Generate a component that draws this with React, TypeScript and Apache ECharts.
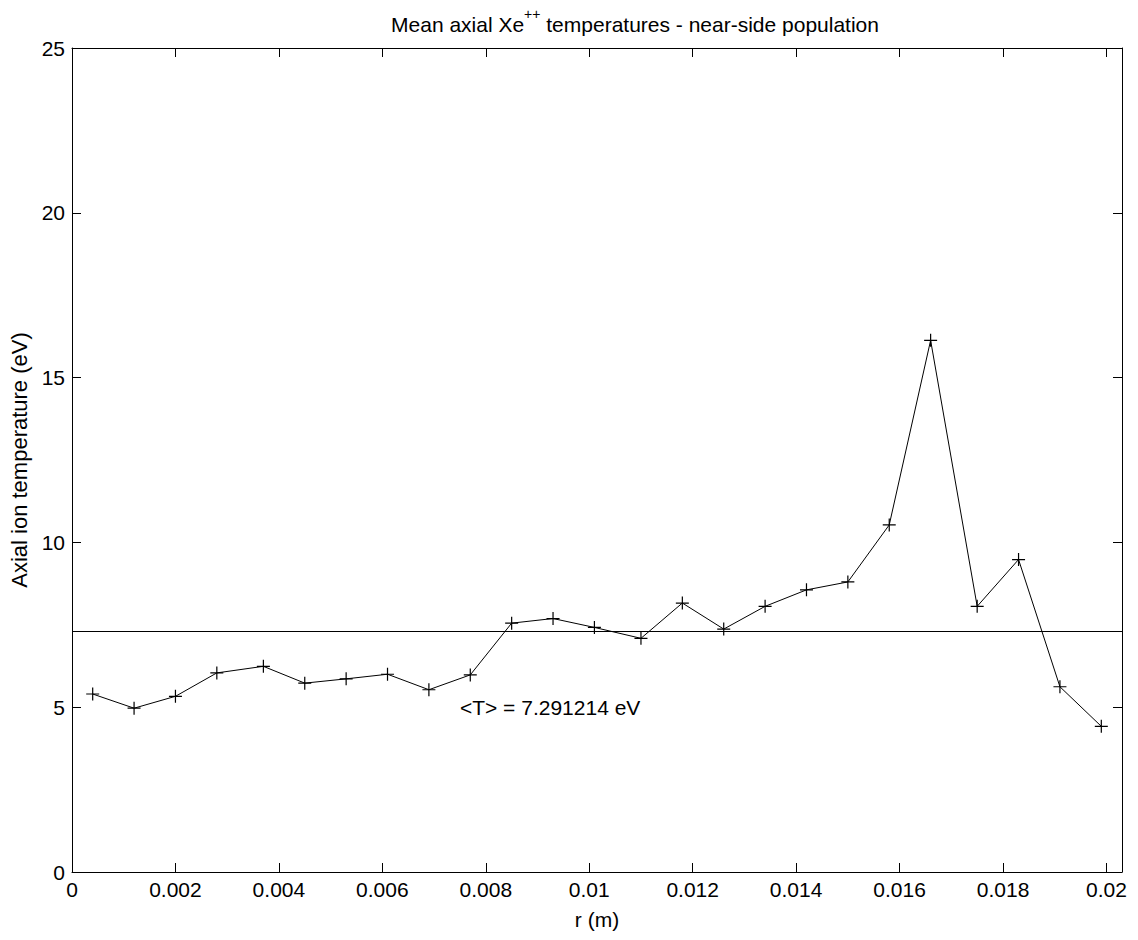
import React, { useEffect, useRef } from "react";
import * as echarts from "echarts";

// Radial positions (m) and mean axial Xe++ ion temperatures (eV)
const r = [
  0.0004, 0.0012, 0.002, 0.0028, 0.0037, 0.0045, 0.0053, 0.0061, 0.0069, 0.0077,
  0.0085, 0.0093, 0.0101, 0.011, 0.0118, 0.0126, 0.0134, 0.0142, 0.015, 0.0158,
  0.0166, 0.0175, 0.0183, 0.0191, 0.0199,
];
const temperature = [
  5.4, 4.97, 5.33, 6.04, 6.24, 5.73, 5.86, 6.0, 5.53, 5.98,
  7.55, 7.69, 7.42, 7.09, 8.16, 7.37, 8.06, 8.56, 8.8, 10.53,
  16.13, 8.06, 9.48, 5.62, 4.42,
];
const meanT = 7.291214;
const meanLabelAt = [0.0075, 5];

const xTicks = [0, 0.002, 0.004, 0.006, 0.008, 0.01, 0.012, 0.014, 0.016, 0.018, 0.02];
const yTicks = [0, 5, 10, 15, 20, 25];
const xMax = 0.0203;

const FONT = "Liberation Sans, Arial, Helvetica, sans-serif";
const BLACK = "#000";
const FS = 21;

export default function App() {
  const ref = useRef<HTMLDivElement>(null);

  useEffect(() => {
    if (!ref.current) return;
    const chart = echarts.init(ref.current, undefined, { renderer: "svg" });

    const fmtX = (v: number) => String(+Number(v).toFixed(4));

    const baseX = {
      type: "value" as const,
      min: 0,
      max: xMax,
      axisLine: { show: true, onZero: false, lineStyle: { color: BLACK, width: 1 } },
      axisTick: { show: true, inside: true, length: 9, customValues: xTicks, lineStyle: { color: BLACK } },
      splitLine: { show: false },
    };
    const baseY = {
      type: "value" as const,
      min: 0,
      max: 25,
      interval: 5,
      axisLine: { show: true, onZero: false, lineStyle: { color: BLACK, width: 1 } },
      axisTick: { show: true, inside: true, length: 9, customValues: yTicks, lineStyle: { color: BLACK } },
      splitLine: { show: false },
    };

    chart.setOption({
      animation: false,
      backgroundColor: "#fff",
      title: {
        text: "{t|Mean axial Xe}{s|++}{t| temperatures - near-side population}",
        left: 630,
        top: 2,
        textAlign: "center",
        textStyle: {
          fontWeight: "normal",
          rich: {
            t: { fontFamily: FONT, fontSize: FS, fontWeight: "normal", color: BLACK, lineHeight: 28, verticalAlign: "bottom" },
            s: { fontFamily: FONT, fontSize: 14, fontWeight: "normal", color: BLACK, lineHeight: 28, verticalAlign: "top" },
          },
        },
      },
      grid: { left: 72, right: 16, top: 48, bottom: 68, containLabel: false },
      xAxis: [
        {
          ...baseX,
          position: "bottom",
          axisLabel: {
            show: true,
            customValues: xTicks,
            formatter: fmtX,
            color: BLACK,
            fontSize: FS,
            fontFamily: FONT,
            margin: 7,
          },
          name: "r (m)",
          nameLocation: "middle",
          nameGap: 37,
          nameTextStyle: { color: BLACK, fontSize: FS, fontFamily: FONT },
        },
        { ...baseX, position: "top", axisLabel: { show: false } },
      ],
      yAxis: [
        {
          ...baseY,
          position: "left",
          axisLabel: { show: true, customValues: yTicks, color: BLACK, fontSize: FS, fontFamily: FONT, margin: 7 },
          name: "Axial ion temperature (eV)",
          nameLocation: "middle",
          nameGap: 39,
          nameTextStyle: { color: BLACK, fontSize: 22, fontFamily: FONT },
        },
        { ...baseY, position: "right", axisLabel: { show: false } },
      ],
      series: [
        {
          type: "line",
          xAxisIndex: 0,
          yAxisIndex: 0,
          data: r.map((x, i) => [x, temperature[i]]),
          lineStyle: { color: BLACK, width: 1 },
          symbol: "path://M0,-10L0,10M-10,0L10,0",
          symbolSize: 13,
          showSymbol: true,
          itemStyle: { color: "none", borderColor: BLACK, borderWidth: 1.2 },
          markLine: {
            silent: true,
            symbol: "none",
            label: { show: false },
            lineStyle: { color: BLACK, width: 1, type: "solid" },
            data: [{ yAxis: meanT }],
          },
          markPoint: {
            silent: true,
            symbol: "circle",
            symbolSize: 0,
            data: [
              {
                coord: meanLabelAt,
                label: {
                  show: true,
                  position: "right",
                  distance: 0,
                  formatter: `<T> = ${meanT} eV`,
                  color: BLACK,
                  fontSize: FS,
                  fontFamily: FONT,
                },
              },
            ],
          },
        },
      ],
    });

    return () => chart.dispose();
  }, []);

  return (
    <div
      ref={ref}
      style={{ position: "fixed", left: 0, top: 0, width: 1138, height: 940, background: "#fff" }}
    />
  );
}
